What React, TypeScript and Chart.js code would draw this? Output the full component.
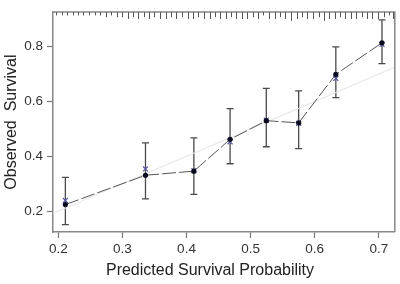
import React, { useEffect, useRef } from "react";
import { Chart, registerables } from "chart.js";

Chart.register(...registerables);

// Calibration groups
const predicted = [0.211, 0.336, 0.4115, 0.468, 0.5245, 0.575, 0.633, 0.705];
const observed = [0.224, 0.331, 0.346, 0.462, 0.530, 0.522, 0.699, 0.814];
const biasCorrected = [0.239, 0.354, 0.348, 0.453, 0.532, 0.520, 0.684, 0.808];
const ciLow = [0.151, 0.245, 0.261, 0.373, 0.435, 0.428, 0.614, 0.738];
const ciHigh = [0.323, 0.449, 0.467, 0.574, 0.648, 0.639, 0.799, 0.898];

// Ideal reference line
const idealX = [0.0, 1.0];
const idealY = [0.0, 1.0];

// Rug of predicted probabilities (position, relative frequency)
const rugX = [
  0.197, 0.205, 0.214, 0.223, 0.231, 0.239, 0.248, 0.257, 0.265, 0.274,
  0.282, 0.291, 0.300, 0.308, 0.316, 0.325, 0.334, 0.342, 0.350, 0.359,
  0.368, 0.376, 0.384, 0.393, 0.402, 0.410, 0.418, 0.427, 0.436, 0.444,
  0.452, 0.461, 0.470, 0.478, 0.486, 0.495, 0.504, 0.512, 0.520, 0.529,
  0.538, 0.546, 0.554, 0.563, 0.572, 0.580, 0.588, 0.597, 0.606, 0.614,
  0.622, 0.631, 0.640, 0.648, 0.656, 0.665, 0.674, 0.682, 0.690, 0.699,
  0.708, 0.716, 0.722,
];
const rugFreq = [
  1, 1, 1, 1, 1, 1, 1, 1, 1, 2,
  1, 2, 2, 3, 2, 3, 2, 3, 2, 3,
  3, 2, 3, 2, 3, 3, 2, 3, 3, 2,
  3, 3, 2, 3, 3, 3, 2, 3, 1, 3,
  3, 2, 3, 4, 3, 2, 3, 3, 2, 4,
  3, 3, 2, 3, 3, 3, 2, 3, 3, 3,
  2, 1, 3,
];

const xTicks = [0.2, 0.3, 0.4, 0.5, 0.6, 0.7];
const yTicks = [0.2, 0.4, 0.6, 0.8];
const xTitle = "Predicted Survival Probability";
const yTitle = "Observed  Survival";

const FONT = "'Liberation Sans', Arial, Helvetica, sans-serif";

const extrasPlugin = {
  id: "extras",
  beforeDatasetsDraw(chart: any) {
    const { ctx, scales } = chart;
    const xs = scales.x;
    const ys = scales.y;
    ctx.save();
    ctx.strokeStyle = "#4a4a4a";
    ctx.lineWidth = 1.3;
    predicted.forEach((p, i) => {
      const px = xs.getPixelForValue(p);
      const y1 = ys.getPixelForValue(ciLow[i]);
      const y2 = ys.getPixelForValue(ciHigh[i]);
      ctx.beginPath();
      ctx.moveTo(px, y1);
      ctx.lineTo(px, y2);
      ctx.moveTo(px - 3.5, y1);
      ctx.lineTo(px + 3.5, y1);
      ctx.moveTo(px - 3.5, y2);
      ctx.lineTo(px + 3.5, y2);
      ctx.stroke();
    });
    ctx.restore();
  },
  afterDraw(chart: any) {
    const { ctx, chartArea, scales } = chart;
    const xs = scales.x;
    ctx.save();
    ctx.strokeStyle = "#888888";
    ctx.lineWidth = 1.5;
    ctx.beginPath();
    ctx.moveTo(chartArea.left, chartArea.top);
    ctx.lineTo(chartArea.right, chartArea.top);
    ctx.lineTo(chartArea.right, chartArea.bottom);
    ctx.stroke();
    ctx.strokeStyle = "#555555";
    ctx.lineWidth = 1;
    rugX.forEach((v, i) => {
      const px = Math.round(xs.getPixelForValue(v)) + 0.5;
      ctx.beginPath();
      ctx.moveTo(px, chartArea.top);
      ctx.lineTo(px, chartArea.top + 1.5 + rugFreq[i] * 1.8);
      ctx.stroke();
    });
    // x axis title, centred on the figure as in the source
    ctx.fillStyle = "#222222";
    ctx.font = `16px ${FONT}`;
    ctx.textAlign = "center";
    ctx.textBaseline = "middle";
    ctx.fillText(xTitle, 210, 271);
    ctx.restore();
  },
};

export default function App() {
  const ref = useRef<HTMLCanvasElement>(null);
  useEffect(() => {
    document.body.style.margin = "0";
    const chart = new Chart(ref.current as HTMLCanvasElement, {
      type: "line",
      data: {
        datasets: [
          {
            label: "Ideal",
            data: idealX.map((x, i) => ({ x, y: idealY[i] })),
            borderColor: "#e8e8e8",
            borderWidth: 1.2,
            pointRadius: 0,
            order: 3,
          },
          {
            label: "Bias-corrected",
            data: predicted.map((x, i) => ({ x, y: biasCorrected[i] })),
            showLine: false,
            pointStyle: "crossRot",
            pointRadius: 3.5,
            borderColor: "#5a5aa8",
            backgroundColor: "#5a5aa8",
            borderWidth: 1.2,
            order: 2,
          },
          {
            label: "Observed",
            data: predicted.map((x, i) => ({ x, y: observed[i] })),
            borderColor: "#555555",
            borderWidth: 1,
            borderDash: [14, 3],
            pointStyle: "circle",
            pointRadius: 2.6,
            pointBackgroundColor: "#0a0a1e",
            pointBorderColor: "#0a0a1e",
            pointBorderWidth: 0,
            order: 1,
          },
        ],
      },
      options: {
        responsive: false,
        animation: false,
        layout: { padding: { top: 3, right: 2, left: 0, bottom: 0 } },
        plugins: {
          legend: { display: false },
          tooltip: { enabled: false },
        },
        scales: {
          x: {
            type: "linear",
            position: "bottom",
            min: 0.1917,
            max: 0.725,
            afterBuildTicks: (s: any) => {
              s.ticks = xTicks.map((v) => ({ value: v }));
            },
            afterFit: (s: any) => {
              s.height = 52;
            },
            ticks: {
              callback: (v: any) => Number(v).toFixed(1),
              font: { family: FONT, size: 13.5 },
              color: "#333333",
              padding: 3,
              maxRotation: 0,
            },
            grid: {
              drawOnChartArea: false,
              drawTicks: true,
              tickLength: 6,
              color: "#777777",
              tickWidth: 1.2,
            },
            border: { display: true, color: "#888888", width: 1.5 },
            title: { display: false },
          },
          y: {
            type: "linear",
            min: 0.124,
            max: 0.926,
            afterBuildTicks: (s: any) => {
              s.ticks = yTicks.map((v) => ({ value: v }));
            },
            afterFit: (s: any) => {
              s.width = 53;
            },
            ticks: {
              callback: (v: any) => Number(v).toFixed(1),
              font: { family: FONT, size: 13.5 },
              color: "#333333",
              padding: 4,
            },
            grid: {
              drawOnChartArea: false,
              drawTicks: true,
              tickLength: 6,
              color: "#777777",
              tickWidth: 1.2,
            },
            border: { display: true, color: "#888888", width: 1.5 },
            title: {
              display: true,
              text: yTitle,
              font: { family: FONT, size: 16 },
              color: "#222222",
              padding: { top: 2, bottom: 0 },
            },
          },
        },
      },
      plugins: [extrasPlugin],
    } as any);
    return () => chart.destroy();
  }, []);
  return (
    <div style={{ width: 400, height: 284 }}>
      <canvas ref={ref} width={400} height={284} />
    </div>
  );
}
